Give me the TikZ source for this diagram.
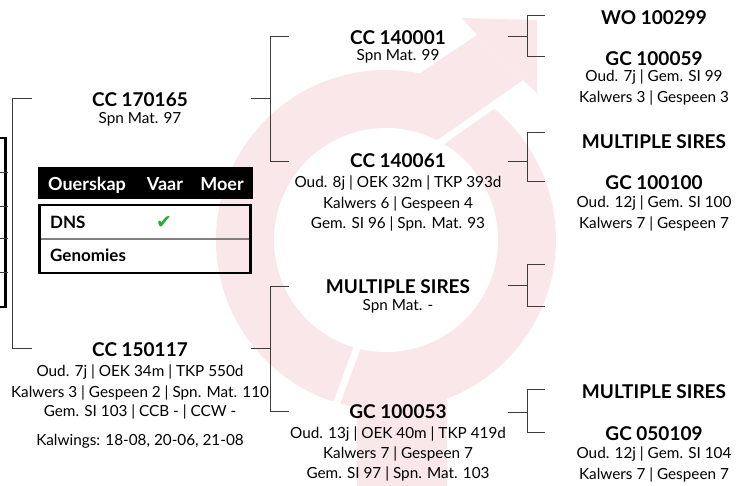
\documentclass[tikz,border=0pt]{standalone}
\usepackage{fontspec}
\setmainfont{Lato}
\newfontfamily\symfont{DejaVu Sans}
\definecolor{wm}{RGB}{250,231,233}
\definecolor{ln}{RGB}{60,60,60}
\definecolor{ck}{RGB}{40,170,50}
\begin{document}
\begin{tikzpicture}[x=1pt,y=-1pt,
  ttl/.style={anchor=base, inner sep=0, font=\fontsize{19}{22}\selectfont\bfseries},
  bdy/.style={anchor=base, inner sep=0, font=\fontsize{15.3}{18}\selectfont},
  hdr/.style={anchor=base, inner sep=0, text=white, font=\fontsize{18}{21}\selectfont\bfseries},
  cell/.style={anchor=base west, inner sep=0, font=\fontsize{17}{20}\selectfont\bfseries},
  conn/.style={draw=ln, line width=1pt},
  gap/.style={draw=white, line width=7pt}]
\useasboundingbox (0,0) rectangle (742,486);
% watermark
\fill[wm] (357,330) rectangle (447,490);
\fill[wm] (386,240) circle[radius=170];
\fill[white] (386,240) circle[radius=112];
\draw[gap] (526,82) -- (425,153);
\draw[gap] (358,345) -- (336,405);
\fill[wm] (477,35) -- (523,80) -- (440,138) -- (395,90) -- cycle;
\fill[wm] (462,18) -- (537,20) -- (537,93) -- (523,80) -- (477,35) -- cycle;
% left partial table
\draw[black, line width=1.2pt] (0,138) -- (7,138) (0,307) -- (7,307);
\draw[black, line width=2.5pt] (5.5,138) -- (5.5,307);
\foreach \yy in {173,207,239,273} \draw[ln, line width=1pt] (0,\yy) -- (8,\yy);
% header table
\fill[black] (38,167) rectangle (253,199);
\node[hdr] (hA) at (87,191) {Ouerskap};
\node[hdr] (hB) at (165,191) {Vaar};
\node[hdr] (hC) at (222,191) {Moer};
\draw[black, line width=1.5pt] (38,205) -- (252,205) (38,273) -- (252,273);
\draw[black!50, line width=1.5pt] (40,239) -- (250,239);
\draw[black, line width=3pt] (39.5,205) -- (39.5,273) (250.5,205) -- (250.5,273);
\node[cell] (cDNS) at (50,229) {DNS};
\node[cell] (cGen) at (50,262) {Genomies};
\node[anchor=base, inner sep=0, text=ck, font=\symfont\fontsize{19}{21}\selectfont] (cChk) at (164,229) {✔};
% generation 1
\node[ttl] (s1) at (140,107) {CC 170165};
\node[bdy] (s1a) at (140,124) {Spn Mat. 97};
\node[ttl] (d1) at (140,357) {CC 150117};
\node[bdy] (d1a) at (140,377) {Oud. 7j | OEK 34m | TKP 550d};
\node[bdy] (d1b) at (140,397) {Kalwers 3 | Gespeen 2 | Spn. Mat. 110};
\node[bdy] (d1c) at (140,417) {Gem. SI 103 | CCB - | CCW -};
\node[bdy] (d1d) at (140,446) {Kalwings: 18-08, 20-06, 21-08};
% generation 2
\node[ttl] (ss) at (398,45) {CC 140001};
\node[bdy] (ssa) at (398,61) {Spn Mat. 99};
\node[ttl] (sd) at (398,168) {CC 140061};
\node[bdy] (sda) at (398,188) {Oud. 8j | OEK 32m | TKP 393d};
\node[bdy] (sdb) at (398,209) {Kalwers 6 | Gespeen 4};
\node[bdy] (sdc) at (398,229) {Gem. SI 96 | Spn. Mat. 93};
\node[ttl] (ds) at (398,294) {MULTIPLE SIRES};
\node[bdy] (dsa) at (398,311) {Spn Mat. -};
\node[ttl] (dd) at (398,418) {GC 100053};
\node[bdy] (dda) at (398,438) {Oud. 13j | OEK 40m | TKP 419d};
\node[bdy] (ddb) at (398,458) {Kalwers 7 | Gespeen 7};
\node[bdy] (ddc) at (398,478) {Gem. SI 97 | Spn. Mat. 103};
% generation 3
\node[ttl] (sss) at (654,25) {WO 100299};
\node[ttl] (ssd) at (654,66) {GC 100059};
\node[bdy] (ssda) at (654,82) {Oud. 7j | Gem. SI 99};
\node[bdy] (ssdb) at (654,103) {Kalwers 3 | Gespeen 3};
\node[ttl] (sds) at (654,149) {MULTIPLE SIRES};
\node[ttl] (sdd) at (654,190) {GC 100100};
\node[bdy] (sdda) at (654,208) {Oud. 12j | Gem. SI 100};
\node[bdy] (sddb) at (654,229) {Kalwers 7 | Gespeen 7};
\node[ttl] (dds) at (654,399) {MULTIPLE SIRES};
\node[ttl] (ddd) at (654,440) {GC 050109};
\node[bdy] (ddda) at (654,458) {Oud. 12j | Gem. SI 104};
\node[bdy] (dddb) at (654,479) {Kalwers 7 | Gespeen 7};
% bracket coordinates
\coordinate (b1t) at (32,99);  \coordinate (b1b) at (32,349);
\coordinate (s1o) at (251,99); \coordinate (d1o) at (251,349);
\coordinate (ssi) at (289,37); \coordinate (sdi) at (289,162);
\coordinate (dsi) at (289,287); \coordinate (ddi) at (289,411);
\coordinate (sso) at (508,37); \coordinate (sdo) at (508,162);
\coordinate (dso) at (508,286); \coordinate (ddo) at (508,412);
\coordinate (sssi) at (545,16); \coordinate (ssdi) at (545,57);
\coordinate (sdsi) at (545,133); \coordinate (sddi) at (545,182);
\coordinate (dssi) at (545,265); \coordinate (dsdi) at (545,307);
\coordinate (ddsi) at (545,390); \coordinate (dddi) at (545,432);
% brackets
\draw[conn] (b1t) -- (12.5,99) -- (12.5,349) -- (b1b);
\draw[conn] (s1o) -- (270,99);
\draw[conn] (ssi) -- (270,37) -- (270,162) -- (sdi);
\draw[conn] (d1o) -- (270,349);
\draw[conn] (dsi) -- (270,287) -- (270,411) -- (ddi);
\draw[conn] (sso) -- (527,37);
\draw[conn] (sssi) -- (527,16) -- (527,57) -- (ssdi);
\draw[conn] (sdo) -- (527,162);
\draw[conn] (sdsi) -- (527,133) -- (527,182) -- (sddi);
\draw[conn] (dso) -- (527,286);
\draw[conn] (dssi) -- (527,265) -- (527,307) -- (dsdi);
\draw[conn] (ddo) -- (527,412);
\draw[conn] (ddsi) -- (527,390) -- (527,432) -- (dddi);
\end{tikzpicture}
\end{document}
